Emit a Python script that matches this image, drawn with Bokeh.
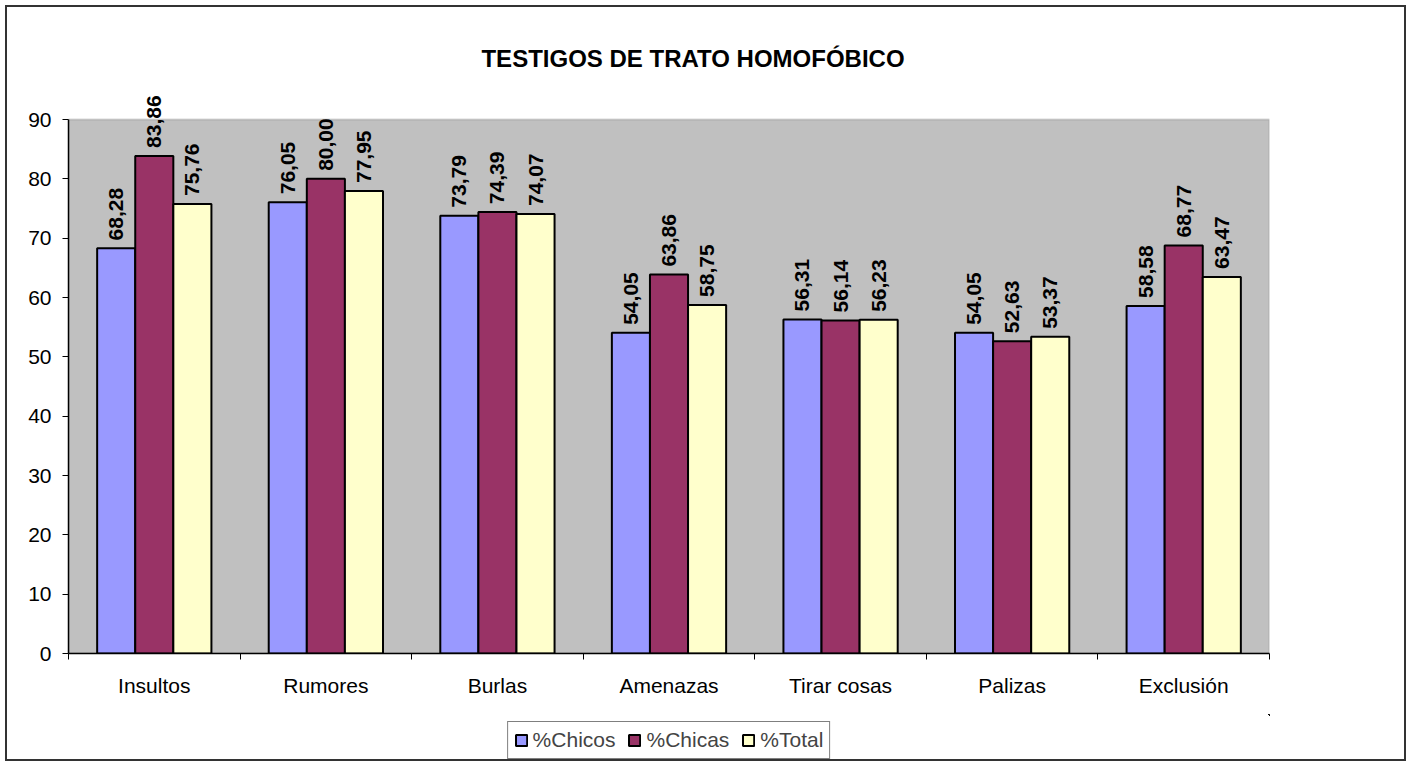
import numpy as np
from bokeh.plotting import figure
from bokeh.layouts import column
from bokeh.models import (Range1d, FixedTicker, ColumnDataSource, LabelSet, Label,
                          Legend, LegendItem, CustomJSTickFormatter, BoxAnnotation)
from bokeh.core.properties import value
from bokeh.embed import file_html
from bokeh.resources import INLINE

categories = ["Insultos", "Rumores", "Burlas", "Amenazas", "Tirar cosas", "Palizas", "Exclusión"]
chicos = [68.28, 76.05, 73.79, 54.05, 56.31, 54.05, 58.58]
chicas = [83.86, 80.00, 74.39, 63.86, 56.14, 52.63, 68.77]
total = [75.76, 77.95, 74.07, 58.75, 56.23, 53.37, 63.47]
series_names = ["%Chicos", "%Chicas", "%Total"]
series_colors = ["#9999FF", "#993366", "#FFFFCC"]
y_ticks = [0, 10, 20, 30, 40, 50, 60, 70, 80, 90]
title_text = "TESTIGOS DE TRATO HOMOFÓBICO"

FONT = "Liberation Sans"
n = len(categories)
centers = np.arange(n) + 0.5
bar_w = 0.222
offsets = [-bar_w, 0.0, bar_w]

W, H = 1411, 714
LEG_H = 52
MB_L, MB_R, MB_T, MB_B = 68, 142, 0, 61
axis_px = 534                     # pixel height of the 0..90 plot area
frame_h = H - MB_T - MB_B
y_top = y_ticks[-1]
y_max = y_top * frame_h / axis_px  # room above the plot area for labels & title

p = figure(width=W, height=H, x_range=Range1d(0, n), y_range=Range1d(0, y_max),
           output_backend="svg", toolbar_location=None,
           min_border_left=MB_L, min_border_right=MB_R, min_border_top=MB_T,
           min_border_bottom=MB_B)
p.background_fill_color = None
p.border_fill_color = None
p.outline_line_color = None
p.grid.visible = False

# gray plot area
p.add_layout(BoxAnnotation(left=0, right=n, bottom=0, top=y_top, level="underlay",
                           fill_color="#C0C0C0", fill_alpha=1,
                           line_color="#808080", line_width=2))

# y axis
p.yaxis.ticker = FixedTicker(ticks=y_ticks, minor_ticks=[])
p.yaxis.bounds = (0, y_top)
p.yaxis.major_tick_in = 0
p.yaxis.major_tick_out = 6
p.yaxis.major_label_text_font = FONT
p.yaxis.major_label_text_font_size = "21px"
p.yaxis.major_label_text_color = "black"
p.yaxis.major_label_standoff = 11
p.yaxis.axis_line_color = "black"
p.yaxis.axis_line_width = 1.5

# x axis: labels at centers, ticks at boundaries
p.xaxis.ticker = FixedTicker(ticks=list(centers), minor_ticks=list(range(n + 1)))
p.xaxis.formatter = CustomJSTickFormatter(args=dict(names=categories),
                                          code="return names[Math.floor(tick)] || '';")
p.xaxis.major_tick_line_color = None
p.xaxis.minor_tick_line_color = "black"
p.xaxis.minor_tick_in = 0
p.xaxis.minor_tick_out = 6
p.xaxis.major_label_text_font = FONT
p.xaxis.major_label_text_font_size = "21px"
p.xaxis.major_label_text_color = "black"
p.xaxis.major_label_standoff = 14
p.xaxis.axis_line_color = "black"
p.xaxis.axis_line_width = 1.5

sources = []
for vals, color, off in zip([chicos, chicas, total], series_colors, offsets):
    src = ColumnDataSource(dict(x=centers + off, top=vals,
                                lab=[f"{v:.2f}".replace(".", ",") for v in vals]))
    sources.append(src)
    p.vbar(x="x", top="top", width=bar_w, bottom=0, source=src,
           fill_color=color, line_color="black", line_width=2)
    ls = LabelSet(x="x", y="top", text="lab", source=src, angle=np.pi / 2,
                  text_align="left", text_baseline="middle", y_offset=8,
                  text_font=value(FONT), text_font_size=value("21px"),
                  text_font_style=value("bold"), text_color=value("black"))
    p.add_layout(ls)

title = Label(x=3.64, y=100.28, text=title_text, text_align="center", text_baseline="middle",
              text_font=FONT, text_font_size="24px", text_font_style="bold", text_color="black")
p.add_layout(title)

# legend strip below the chart (its renderers share the series sources,
# but its view range is empty so only the legend itself is shown)
pl = figure(width=W, height=LEG_H, x_range=Range1d(-2, -1), y_range=Range1d(-2, -1),
            output_backend="svg", toolbar_location=None,
            x_axis_location=None, y_axis_location=None,
            min_border_left=MB_L, min_border_right=MB_R, min_border_top=0, min_border_bottom=0)
pl.outline_line_color = None
pl.grid.visible = False
pl.background_fill_color = None
pl.border_fill_color = None
items = []
for name, color, src in zip(series_names, series_colors, sources):
    r = pl.vbar(x="x", top="top", width=bar_w, bottom=0, source=src,
                fill_color=color, line_color="black", line_width=2)
    items.append(LegendItem(label=name, renderers=[r]))
legend = Legend(items=items, orientation="horizontal", location="center",
                border_line_color="black", border_line_width=1,
                background_fill_color="white", background_fill_alpha=1,
                label_text_font=FONT, label_text_font_size="21px",
                glyph_width=14, glyph_height=14, label_standoff=5, spacing=12,
                padding=6, margin=0)
pl.add_layout(legend, "center")

layout = column(p, pl, spacing=0)
layout.styles = {"outline": "2px solid #333333", "outline-offset": "-7px",
                 "background": "white"}

open("out.html", "w").write(file_html(layout, INLINE))
